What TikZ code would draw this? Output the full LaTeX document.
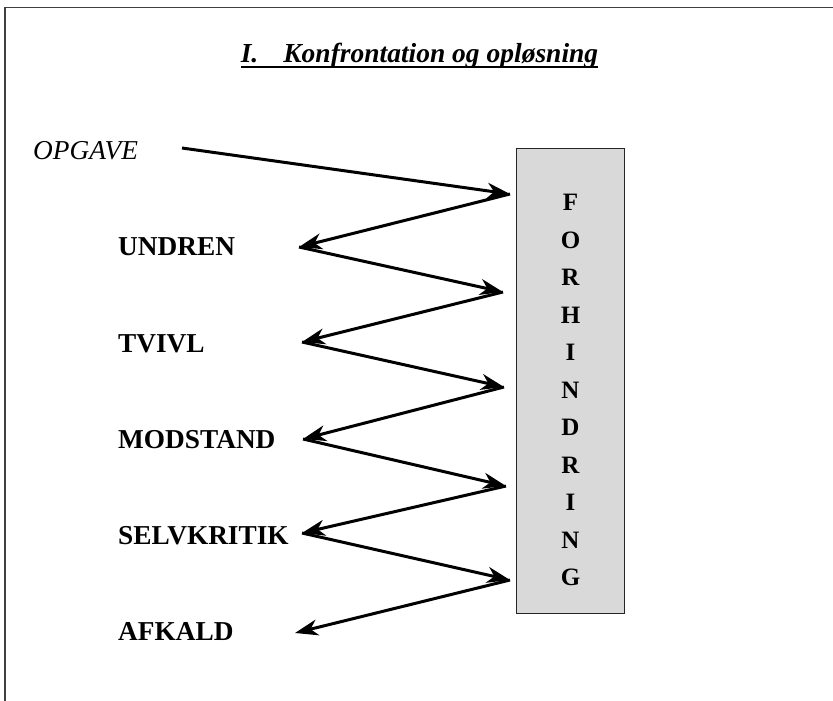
\documentclass[tikz,border=0pt]{standalone}
\usepackage{fontspec}
\setmainfont{Liberation Serif}
\usetikzlibrary{arrows.meta}
\definecolor{boxgrey}{HTML}{D9D9D9}
\definecolor{framegrey}{HTML}{404040}
\tikzset{
  lbl/.style={anchor=base west, inner sep=0pt, font=\fontsize{27.3}{30}\selectfont\bfseries},
  zig/.style={line width=3pt, -{Stealth[length=23pt, width=16pt, inset=7pt]}, shorten >=0pt},
  boxstyle/.style={draw=black!85, line width=1pt, fill=boxgrey, minimum width=108pt, minimum height=465pt, inner sep=0pt},
}
\begin{document}
\begin{tikzpicture}[x=1pt, y=-1pt]
\useasboundingbox (0,0) rectangle (833,701);
% frame
\draw[framegrey, line width=1.4pt] (5,701) -- (5,7.5) -- (833,7.5);
% title
\node[anchor=base, inner sep=0pt, font=\fontsize{27.5}{30}\selectfont\bfseries\itshape] (title) at (419.5,63) {I.\hspace{25pt}Konfrontation og opløsning};
\draw[line width=1.6pt] ([yshift=-4pt]title.base west) -- ([yshift=-4pt]title.base east);
% box
\node[boxstyle] (box) at (570.5,380.5) {};
\node[align=center, inner sep=0pt, font=\fontsize{25}{37.5}\selectfont\bfseries] (letters) at (570.5,390) {F\\O\\R\\H\\I\\N\\D\\R\\I\\N\\G};
% labels
\node[anchor=base west, inner sep=0pt, font=\fontsize{27.3}{30}\selectfont\itshape] (opg) at (33,159) {OPGAVE};
\node[lbl] (und) at (118,255) {UNDREN};
\node[lbl] (tvi) at (118,352) {TVIVL};
\node[lbl] (mod) at (118,448) {MODSTAND};
\node[lbl] (sel) at (118,544) {SELVKRITIK};
\node[lbl] (afk) at (118,640) {AFKALD};
% arrow points
\coordinate (o) at (182,148);
\coordinate (t1) at (510,194);
\coordinate (u) at (299,247);
\coordinate (t2) at (503,292);
\coordinate (v) at (302,342);
\coordinate (t3) at (504,387);
\coordinate (m) at (303,439);
\coordinate (t4) at (506,486);
\coordinate (s) at (302,533);
\coordinate (t5) at (510,580);
\coordinate (a) at (295,633);
\draw[zig] (o) -- (t1);
\draw[zig] (t1) -- (u);
\draw[zig] (u) -- (t2);
\draw[zig] (t2) -- (v);
\draw[zig] (v) -- (t3);
\draw[zig] (t3) -- (m);
\draw[zig] (m) -- (t4);
\draw[zig] (t4) -- (s);
\draw[zig] (s) -- (t5);
\draw[zig] (t5) -- (a);
\end{tikzpicture}
\end{document}
